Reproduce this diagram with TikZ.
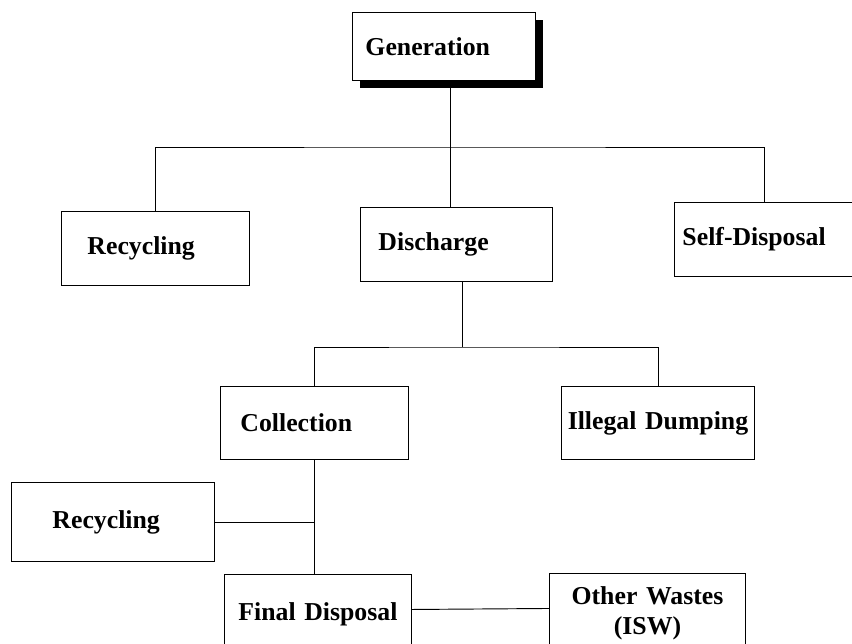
\documentclass[tikz,border=0pt]{standalone}
\usepackage{fontspec}
\setmainfont{Liberation Serif}
\usetikzlibrary{shadows}

\begin{document}
\begin{tikzpicture}[x=0.03cm,y=-0.03cm,thick,
  every node/.style={font=\bfseries\fontsize{22}{26}\selectfont},
  box/.style={draw,line width=0.8pt,anchor=north west,inner ysep=0pt,align=left},
  mid/.style={box,align=center,inner xsep=0.15cm}]
  \useasboundingbox (0,0) rectangle (852,643);
  \node[box,inner xsep=0.39cm,text width=4.71cm,minimum height=2.04cm,fill=white,
    drop shadow={shadow xshift=0.24cm,shadow yshift=-0.24cm,fill=black,opacity=1}] (gen) at (352,12) {Generation};
  \node[box,inner xsep=0.78cm,text width=4.08cm,minimum height=2.22cm] (rec1) at (61,211) {Recycling};
  \node[box,inner xsep=0.54cm,text width=4.68cm,minimum height=2.22cm] (dis) at (360,207) {Discharge};
  \node[box,inner xsep=0.24cm,text width=4.92cm,minimum height=2.22cm] (self) at (674,202) {Self-Disposal};
  \node[box,inner xsep=0.6cm,text width=4.44cm,minimum height=2.19cm] (col) at (220,386) {Collection};
  \node[mid,text width=5.49cm,minimum height=2.19cm] (ill) at (561,386) {Illegal Dumping};
  \node[box,inner xsep=1.23cm,text width=3.63cm,minimum height=2.37cm] (rec2) at (11,482) {Recycling};
  \node[mid,text width=5.31cm,minimum height=2.4cm] (fin) at (224,574) {Final Disposal};
  \node[mid,text width=5.58cm,minimum height=2.4cm] (oth) at (549,573) {Other Wastes\\(ISW)};
  \coordinate (t) at (450,147);
  \coordinate (m) at (462,347);
  \draw (gen.south -| t) -- (t);
  \draw (rec1.north) |- (t) -| (self.north);
  \draw (dis.north -| t) -- (t);
  \draw (dis.south -| m) -- (m);
  \draw (col.north) |- (m) -| (ill.north);
  \draw (col.south) -- (col.south |- fin.north);
  \draw (rec2.east) -- (col.south |- rec2.east);
  \draw ([yshift=0.15cm]fin.east) -- ([yshift=0.15cm]oth.west);
\end{tikzpicture}
\end{document}
